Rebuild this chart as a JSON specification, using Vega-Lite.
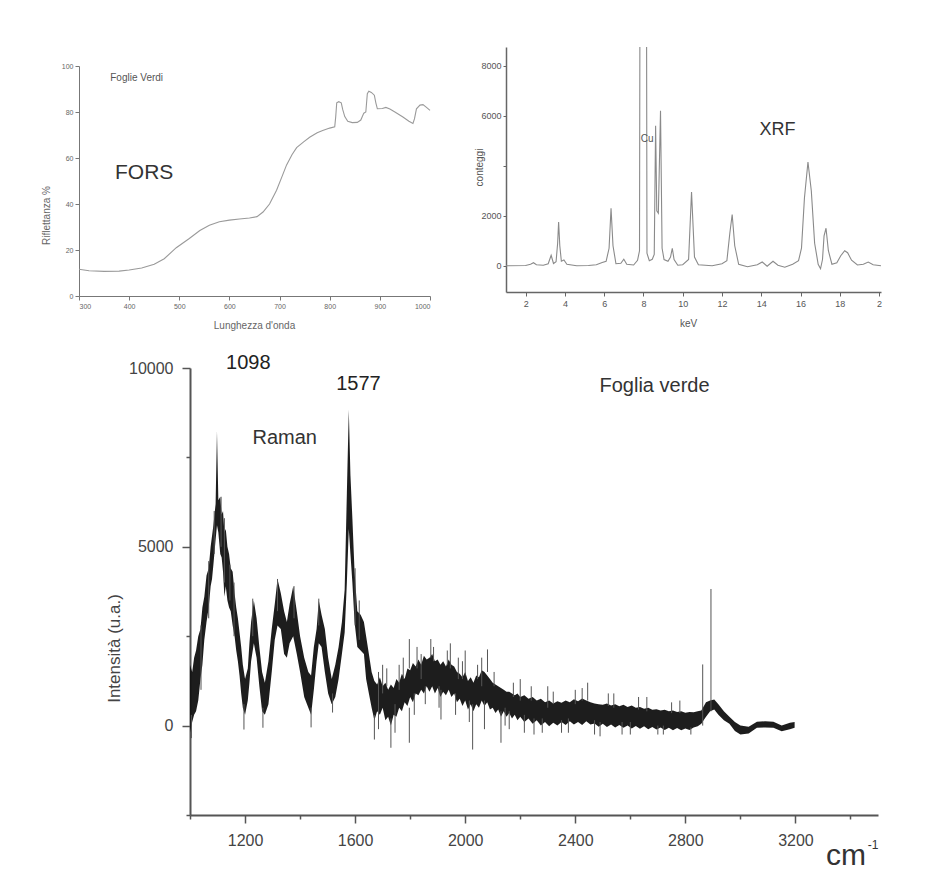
{
  "$schema": "https://vega.github.io/schema/vega-lite/v6.json",
  "padding": {"left": 41, "top": 47, "right": 5, "bottom": 5},
  "background": "white",
  "config": {
    "view": {"stroke": null},
    "font": "Liberation Sans",
    "axis": {"grid": false, "labelOverlap": false}
  },
  "datasets": {
    "fors": [
      {"nm": 300, "r": 11.6}, {"nm": 320, "r": 11.0}, {"nm": 350, "r": 10.7}, {"nm": 380, "r": 10.8},
      {"nm": 400, "r": 11.3}, {"nm": 425, "r": 12.2}, {"nm": 450, "r": 13.8}, {"nm": 470, "r": 16.2},
      {"nm": 494, "r": 21}, {"nm": 520, "r": 25}, {"nm": 541, "r": 28.5}, {"nm": 560, "r": 30.8},
      {"nm": 580, "r": 32.3}, {"nm": 600, "r": 33}, {"nm": 620, "r": 33.5}, {"nm": 640, "r": 33.9},
      {"nm": 655, "r": 34.5}, {"nm": 667, "r": 36.5}, {"nm": 680, "r": 40}, {"nm": 694, "r": 46},
      {"nm": 705, "r": 52}, {"nm": 714, "r": 57}, {"nm": 725, "r": 61.5}, {"nm": 734, "r": 64.5},
      {"nm": 748, "r": 67}, {"nm": 760, "r": 69}, {"nm": 775, "r": 71}, {"nm": 786, "r": 72},
      {"nm": 800, "r": 73}, {"nm": 810, "r": 73.6}, {"nm": 812, "r": 78}, {"nm": 814, "r": 84},
      {"nm": 818, "r": 84.5}, {"nm": 823, "r": 84}, {"nm": 826, "r": 81}, {"nm": 830, "r": 78},
      {"nm": 836, "r": 76}, {"nm": 845, "r": 75.4}, {"nm": 855, "r": 75.5}, {"nm": 862, "r": 76.5},
      {"nm": 868, "r": 79.5}, {"nm": 872, "r": 80}, {"nm": 875, "r": 88}, {"nm": 878, "r": 89},
      {"nm": 883, "r": 88.5}, {"nm": 889, "r": 87.3}, {"nm": 892, "r": 84}, {"nm": 895, "r": 81.4},
      {"nm": 905, "r": 81.5}, {"nm": 912, "r": 82}, {"nm": 920, "r": 81.3}, {"nm": 930, "r": 80},
      {"nm": 946, "r": 77.8}, {"nm": 958, "r": 76}, {"nm": 966, "r": 75}, {"nm": 969, "r": 77},
      {"nm": 973, "r": 81.4}, {"nm": 980, "r": 83}, {"nm": 986, "r": 83.2}, {"nm": 993, "r": 82},
      {"nm": 1000, "r": 80.7}
    ],
    "xrf": [
      {"kev": 1.0, "c": 0}, {"kev": 2.0, "c": 10}, {"kev": 2.25, "c": 60}, {"kev": 2.4, "c": 120},
      {"kev": 2.55, "c": 40}, {"kev": 2.9, "c": 20}, {"kev": 3.15, "c": 80}, {"kev": 3.3, "c": 420},
      {"kev": 3.42, "c": 90}, {"kev": 3.55, "c": 160}, {"kev": 3.63, "c": 900}, {"kev": 3.68, "c": 1750},
      {"kev": 3.74, "c": 800}, {"kev": 3.82, "c": 180}, {"kev": 3.95, "c": 230}, {"kev": 4.1, "c": 60},
      {"kev": 4.6, "c": 0}, {"kev": 5.2, "c": 10}, {"kev": 5.6, "c": 40}, {"kev": 5.9, "c": 130},
      {"kev": 6.1, "c": 180}, {"kev": 6.25, "c": 700}, {"kev": 6.35, "c": 2300}, {"kev": 6.45, "c": 800},
      {"kev": 6.6, "c": 80}, {"kev": 6.85, "c": 100}, {"kev": 7.0, "c": 260}, {"kev": 7.15, "c": 60},
      {"kev": 7.5, "c": 30}, {"kev": 7.7, "c": 220}, {"kev": 7.8, "c": 600}, {"kev": 7.83, "c": 14000},
      {"kev": 8.15, "c": 14000}, {"kev": 8.18, "c": 500}, {"kev": 8.3, "c": 200}, {"kev": 8.45, "c": 260},
      {"kev": 8.55, "c": 450}, {"kev": 8.62, "c": 5600}, {"kev": 8.68, "c": 2200}, {"kev": 8.76, "c": 2100},
      {"kev": 8.87, "c": 6200}, {"kev": 8.95, "c": 700}, {"kev": 9.05, "c": 250}, {"kev": 9.25, "c": 180},
      {"kev": 9.38, "c": 350}, {"kev": 9.47, "c": 700}, {"kev": 9.56, "c": 250}, {"kev": 9.75, "c": 20},
      {"kev": 10.0, "c": 40}, {"kev": 10.3, "c": 250}, {"kev": 10.45, "c": 2950}, {"kev": 10.6, "c": 350},
      {"kev": 10.8, "c": 40}, {"kev": 11.5, "c": 0}, {"kev": 12.0, "c": 80}, {"kev": 12.25, "c": 200},
      {"kev": 12.4, "c": 1300}, {"kev": 12.52, "c": 2050}, {"kev": 12.65, "c": 800}, {"kev": 12.85, "c": 60},
      {"kev": 13.3, "c": -40}, {"kev": 13.8, "c": 40}, {"kev": 14.05, "c": 150}, {"kev": 14.3, "c": -20},
      {"kev": 14.6, "c": 180}, {"kev": 14.85, "c": 20}, {"kev": 15.2, "c": -60}, {"kev": 15.6, "c": 60},
      {"kev": 15.9, "c": 200}, {"kev": 16.05, "c": 700}, {"kev": 16.2, "c": 2700}, {"kev": 16.38, "c": 4150},
      {"kev": 16.55, "c": 3000}, {"kev": 16.72, "c": 900}, {"kev": 16.9, "c": 60}, {"kev": 17.02, "c": -120},
      {"kev": 17.12, "c": 250}, {"kev": 17.2, "c": 1200}, {"kev": 17.3, "c": 1500}, {"kev": 17.42, "c": 600},
      {"kev": 17.6, "c": 60}, {"kev": 17.85, "c": 120}, {"kev": 18.05, "c": 400}, {"kev": 18.25, "c": 600},
      {"kev": 18.4, "c": 520}, {"kev": 18.6, "c": 220}, {"kev": 18.9, "c": 30}, {"kev": 19.2, "c": 60},
      {"kev": 19.45, "c": 150}, {"kev": 19.7, "c": 40}, {"kev": 20.1, "c": 0}
    ],
    "ramanEnv": [
      {"x": 1000, "lo": -200, "hi": 1700}, {"x": 1008, "lo": 100, "hi": 1500}, {"x": 1015, "lo": 300, "hi": 1900},
      {"x": 1022, "lo": 400, "hi": 2100}, {"x": 1030, "lo": 700, "hi": 2500}, {"x": 1038, "lo": 1300, "hi": 2700},
      {"x": 1045, "lo": 1700, "hi": 3300}, {"x": 1052, "lo": 2400, "hi": 3600}, {"x": 1060, "lo": 2900, "hi": 4200},
      {"x": 1068, "lo": 3300, "hi": 4400}, {"x": 1075, "lo": 3900, "hi": 5000}, {"x": 1080, "lo": 4100, "hi": 5300},
      {"x": 1085, "lo": 4500, "hi": 5600}, {"x": 1093, "lo": 5200, "hi": 6200}, {"x": 1098, "lo": 5600, "hi": 8230},
      {"x": 1103, "lo": 5400, "hi": 6300}, {"x": 1110, "lo": 4800, "hi": 6400}, {"x": 1115, "lo": 4700, "hi": 5900},
      {"x": 1120, "lo": 4300, "hi": 6000}, {"x": 1125, "lo": 3600, "hi": 5400}, {"x": 1130, "lo": 3900, "hi": 5500},
      {"x": 1136, "lo": 3500, "hi": 5000}, {"x": 1142, "lo": 3300, "hi": 4800}, {"x": 1148, "lo": 3200, "hi": 4400},
      {"x": 1155, "lo": 2800, "hi": 4300}, {"x": 1162, "lo": 2500, "hi": 3700}, {"x": 1168, "lo": 2100, "hi": 3300},
      {"x": 1174, "lo": 1800, "hi": 3000}, {"x": 1180, "lo": 1400, "hi": 2600}, {"x": 1186, "lo": 900, "hi": 2200},
      {"x": 1192, "lo": 500, "hi": 1700}, {"x": 1200, "lo": 300, "hi": 1300}, {"x": 1210, "lo": 700, "hi": 1600},
      {"x": 1216, "lo": 1200, "hi": 2300}, {"x": 1222, "lo": 1800, "hi": 2900}, {"x": 1232, "lo": 2300, "hi": 3500},
      {"x": 1242, "lo": 1900, "hi": 3000}, {"x": 1252, "lo": 1100, "hi": 2200}, {"x": 1262, "lo": 400, "hi": 1500},
      {"x": 1272, "lo": 300, "hi": 1200}, {"x": 1285, "lo": 600, "hi": 1800}, {"x": 1297, "lo": 1500, "hi": 2700},
      {"x": 1308, "lo": 2400, "hi": 3400}, {"x": 1318, "lo": 2800, "hi": 4100}, {"x": 1330, "lo": 2700, "hi": 3700},
      {"x": 1342, "lo": 2000, "hi": 3200}, {"x": 1352, "lo": 1900, "hi": 2900}, {"x": 1362, "lo": 2300, "hi": 3400},
      {"x": 1375, "lo": 2500, "hi": 3900}, {"x": 1388, "lo": 2000, "hi": 3200}, {"x": 1400, "lo": 1500, "hi": 2500},
      {"x": 1415, "lo": 800, "hi": 1900}, {"x": 1430, "lo": 500, "hi": 1500}, {"x": 1440, "lo": 300, "hi": 1400},
      {"x": 1450, "lo": 1000, "hi": 2200}, {"x": 1460, "lo": 1800, "hi": 2700}, {"x": 1468, "lo": 2300, "hi": 3500},
      {"x": 1478, "lo": 2200, "hi": 3100}, {"x": 1490, "lo": 1500, "hi": 2700}, {"x": 1502, "lo": 900, "hi": 1900},
      {"x": 1515, "lo": 600, "hi": 1300}, {"x": 1528, "lo": 800, "hi": 1700}, {"x": 1540, "lo": 1300, "hi": 2200},
      {"x": 1552, "lo": 2000, "hi": 2900}, {"x": 1562, "lo": 2600, "hi": 3800}, {"x": 1570, "lo": 4000, "hi": 6500},
      {"x": 1577, "lo": 5500, "hi": 8830}, {"x": 1583, "lo": 4800, "hi": 7000}, {"x": 1590, "lo": 4000, "hi": 5800},
      {"x": 1598, "lo": 2900, "hi": 4300}, {"x": 1608, "lo": 2200, "hi": 3200}, {"x": 1620, "lo": 2100, "hi": 3100},
      {"x": 1632, "lo": 2000, "hi": 2900}, {"x": 1640, "lo": 1300, "hi": 2500}, {"x": 1650, "lo": 900, "hi": 2000},
      {"x": 1660, "lo": 500, "hi": 1500}, {"x": 1670, "lo": 150, "hi": 1250}, {"x": 1680, "lo": 400, "hi": 1150},
      {"x": 1690, "lo": 300, "hi": 1350}, {"x": 1700, "lo": 500, "hi": 1100}, {"x": 1710, "lo": 150, "hi": 1200},
      {"x": 1720, "lo": 250, "hi": 1000}, {"x": 1730, "lo": 0, "hi": 1150}, {"x": 1740, "lo": 300, "hi": 1050},
      {"x": 1750, "lo": 250, "hi": 1300}, {"x": 1760, "lo": 500, "hi": 1200}, {"x": 1770, "lo": 400, "hi": 1450},
      {"x": 1780, "lo": 650, "hi": 1300}, {"x": 1790, "lo": 550, "hi": 1600}, {"x": 1800, "lo": 800, "hi": 1550},
      {"x": 1810, "lo": 650, "hi": 1750}, {"x": 1820, "lo": 900, "hi": 1650}, {"x": 1830, "lo": 850, "hi": 1850},
      {"x": 1840, "lo": 1000, "hi": 1700}, {"x": 1850, "lo": 900, "hi": 1950}, {"x": 1860, "lo": 1100, "hi": 1850},
      {"x": 1870, "lo": 950, "hi": 1900}, {"x": 1880, "lo": 1100, "hi": 2000}, {"x": 1890, "lo": 900, "hi": 1800},
      {"x": 1900, "lo": 1050, "hi": 1850}, {"x": 1910, "lo": 800, "hi": 1700}, {"x": 1920, "lo": 950, "hi": 1800},
      {"x": 1930, "lo": 850, "hi": 1650}, {"x": 1940, "lo": 1000, "hi": 1850}, {"x": 1950, "lo": 800, "hi": 1700},
      {"x": 1960, "lo": 900, "hi": 1650}, {"x": 1970, "lo": 650, "hi": 1500}, {"x": 1980, "lo": 750, "hi": 1450},
      {"x": 1990, "lo": 550, "hi": 1350}, {"x": 2000, "lo": 700, "hi": 1500}, {"x": 2010, "lo": 450, "hi": 1250},
      {"x": 2020, "lo": 600, "hi": 1350}, {"x": 2030, "lo": 400, "hi": 1200}, {"x": 2040, "lo": 600, "hi": 1400},
      {"x": 2050, "lo": 500, "hi": 1350}, {"x": 2060, "lo": 700, "hi": 1550}, {"x": 2070, "lo": 550, "hi": 1500},
      {"x": 2080, "lo": 650, "hi": 1400}, {"x": 2090, "lo": 450, "hi": 1300}, {"x": 2100, "lo": 500, "hi": 1200},
      {"x": 2110, "lo": 350, "hi": 1150}, {"x": 2120, "lo": 450, "hi": 1100}, {"x": 2130, "lo": 250, "hi": 1050},
      {"x": 2140, "lo": 400, "hi": 1000}, {"x": 2150, "lo": 250, "hi": 950}, {"x": 2160, "lo": 350, "hi": 950},
      {"x": 2170, "lo": 200, "hi": 900}, {"x": 2180, "lo": 300, "hi": 850}, {"x": 2190, "lo": 150, "hi": 900},
      {"x": 2200, "lo": 250, "hi": 800}, {"x": 2215, "lo": 100, "hi": 850}, {"x": 2230, "lo": 200, "hi": 750},
      {"x": 2245, "lo": 50, "hi": 800}, {"x": 2260, "lo": 150, "hi": 700}, {"x": 2275, "lo": 0, "hi": 750},
      {"x": 2290, "lo": 100, "hi": 650}, {"x": 2305, "lo": -20, "hi": 700}, {"x": 2320, "lo": 80, "hi": 620},
      {"x": 2335, "lo": 0, "hi": 680}, {"x": 2350, "lo": 100, "hi": 640}, {"x": 2365, "lo": 20, "hi": 700},
      {"x": 2380, "lo": 120, "hi": 650}, {"x": 2395, "lo": 30, "hi": 740}, {"x": 2410, "lo": 100, "hi": 680},
      {"x": 2425, "lo": 20, "hi": 760}, {"x": 2440, "lo": 120, "hi": 700}, {"x": 2455, "lo": 30, "hi": 650},
      {"x": 2470, "lo": 60, "hi": 620}, {"x": 2485, "lo": -30, "hi": 600}, {"x": 2500, "lo": 50, "hi": 580},
      {"x": 2515, "lo": -40, "hi": 620}, {"x": 2530, "lo": 30, "hi": 560}, {"x": 2545, "lo": -50, "hi": 600},
      {"x": 2560, "lo": 20, "hi": 540}, {"x": 2575, "lo": -60, "hi": 580}, {"x": 2590, "lo": 0, "hi": 520},
      {"x": 2605, "lo": -80, "hi": 560}, {"x": 2620, "lo": -10, "hi": 500}, {"x": 2635, "lo": -90, "hi": 520},
      {"x": 2650, "lo": -20, "hi": 470}, {"x": 2665, "lo": -100, "hi": 500}, {"x": 2680, "lo": -40, "hi": 440},
      {"x": 2695, "lo": -110, "hi": 460}, {"x": 2710, "lo": -50, "hi": 420}, {"x": 2725, "lo": -120, "hi": 440},
      {"x": 2740, "lo": -60, "hi": 400}, {"x": 2755, "lo": -130, "hi": 420}, {"x": 2770, "lo": -70, "hi": 380},
      {"x": 2785, "lo": -130, "hi": 400}, {"x": 2800, "lo": -80, "hi": 360}, {"x": 2815, "lo": -120, "hi": 380},
      {"x": 2830, "lo": -50, "hi": 370}, {"x": 2845, "lo": -20, "hi": 400}, {"x": 2858, "lo": 50, "hi": 420},
      {"x": 2875, "lo": 250, "hi": 650}, {"x": 2890, "lo": 400, "hi": 700}, {"x": 2905, "lo": 450, "hi": 730},
      {"x": 2920, "lo": 300, "hi": 600}, {"x": 2940, "lo": 150, "hi": 400}, {"x": 2960, "lo": 50, "hi": 250},
      {"x": 2980, "lo": -150, "hi": 100}, {"x": 3000, "lo": -250, "hi": 0}, {"x": 3030, "lo": -220, "hi": -30},
      {"x": 3060, "lo": -60, "hi": 110}, {"x": 3090, "lo": -50, "hi": 120}, {"x": 3120, "lo": -60, "hi": 110},
      {"x": 3150, "lo": -160, "hi": 0}, {"x": 3180, "lo": -100, "hi": 80}, {"x": 3197, "lo": -60, "hi": 100}
    ],
    "ramanSpikes": [
      {"x": 1005, "y0": -350, "y1": 300}, {"x": 1040, "y0": 1000, "y1": 2800}, {"x": 1068, "y0": 3000, "y1": 4600},
      {"x": 1088, "y0": 4800, "y1": 6000}, {"x": 1113, "y0": 5000, "y1": 6400}, {"x": 1125, "y0": 4000, "y1": 5800},
      {"x": 1145, "y0": 3500, "y1": 4500}, {"x": 1160, "y0": 2500, "y1": 4000}, {"x": 1196, "y0": -110, "y1": 600},
      {"x": 1228, "y0": 2500, "y1": 3550}, {"x": 1265, "y0": -60, "y1": 500}, {"x": 1318, "y0": 3200, "y1": 4100},
      {"x": 1378, "y0": 3000, "y1": 3900}, {"x": 1440, "y0": -50, "y1": 500}, {"x": 1468, "y0": 2800, "y1": 3550},
      {"x": 1518, "y0": 365, "y1": 900}, {"x": 1600, "y0": 2800, "y1": 4400}, {"x": 1615, "y0": 2400, "y1": 3500},
      {"x": 1670, "y0": -390, "y1": 300}, {"x": 1685, "y0": -100, "y1": 1500}, {"x": 1700, "y0": 900, "y1": 1700},
      {"x": 1715, "y0": 1100, "y1": 1600}, {"x": 1730, "y0": -620, "y1": 200}, {"x": 1745, "y0": -200, "y1": 600},
      {"x": 1760, "y0": 1000, "y1": 1700}, {"x": 1775, "y0": 1300, "y1": 1900}, {"x": 1797, "y0": -480, "y1": 500},
      {"x": 1797, "y0": 1600, "y1": 2420}, {"x": 1815, "y0": 300, "y1": 900}, {"x": 1825, "y0": 1600, "y1": 2200},
      {"x": 1840, "y0": 1300, "y1": 2000}, {"x": 1855, "y0": 600, "y1": 1100}, {"x": 1875, "y0": 1900, "y1": 2420},
      {"x": 1885, "y0": 1800, "y1": 2200}, {"x": 1905, "y0": 500, "y1": 1100}, {"x": 1912, "y0": 170, "y1": 1000},
      {"x": 1935, "y0": 1700, "y1": 2100}, {"x": 1946, "y0": 1600, "y1": 2300}, {"x": 1965, "y0": 300, "y1": 900},
      {"x": 1975, "y0": 1300, "y1": 1900}, {"x": 1990, "y0": 1300, "y1": 1800}, {"x": 2000, "y0": 1400, "y1": 2100},
      {"x": 2015, "y0": 100, "y1": 700}, {"x": 2027, "y0": -670, "y1": 600}, {"x": 2045, "y0": 1300, "y1": 1700},
      {"x": 2060, "y0": 1100, "y1": 1900}, {"x": 2070, "y0": -100, "y1": 700}, {"x": 2081, "y0": 1500, "y1": 2130},
      {"x": 2105, "y0": 1100, "y1": 1500}, {"x": 2130, "y0": -480, "y1": 400}, {"x": 2145, "y0": 0, "y1": 500},
      {"x": 2160, "y0": -100, "y1": 400}, {"x": 2175, "y0": 800, "y1": 1200}, {"x": 2200, "y0": 700, "y1": 1300},
      {"x": 2215, "y0": -200, "y1": 300}, {"x": 2240, "y0": 700, "y1": 1100}, {"x": 2250, "y0": -250, "y1": 200},
      {"x": 2280, "y0": -200, "y1": 200}, {"x": 2300, "y0": 500, "y1": 1100}, {"x": 2320, "y0": 600, "y1": 950},
      {"x": 2350, "y0": -200, "y1": 150}, {"x": 2375, "y0": -200, "y1": 200}, {"x": 2400, "y0": 600, "y1": 1000},
      {"x": 2425, "y0": 700, "y1": 1050}, {"x": 2445, "y0": 700, "y1": 1200}, {"x": 2470, "y0": -250, "y1": 150},
      {"x": 2490, "y0": -300, "y1": 100}, {"x": 2520, "y0": 550, "y1": 900}, {"x": 2540, "y0": 500, "y1": 900},
      {"x": 2570, "y0": -250, "y1": 100}, {"x": 2600, "y0": -250, "y1": 100}, {"x": 2630, "y0": 450, "y1": 800},
      {"x": 2660, "y0": 400, "y1": 800}, {"x": 2700, "y0": -250, "y1": 0}, {"x": 2720, "y0": -250, "y1": 0},
      {"x": 2750, "y0": 350, "y1": 650}, {"x": 2780, "y0": 350, "y1": 700}, {"x": 2820, "y0": -250, "y1": -50},
      {"x": 2863, "y0": 0, "y1": 1710}, {"x": 2893, "y0": 400, "y1": 3820}
    ]
  },
  "vconcat": [
    {
      "hconcat": [
        {
          "vconcat": [
            {
              "width": 10,
              "height": 1,
              "data": {"values": []},
              "mark": "point"
            },
            {
              "width": 351,
              "height": 230,
              "layer": [
                {
                  "data": {"name": "fors"},
                  "mark": {"type": "line", "color": "#9a9a9a", "strokeWidth": 1.1},
                  "encoding": {
                    "x": {
                      "field": "nm", "type": "quantitative",
                      "scale": {"domain": [300, 1000], "nice": false, "zero": false},
                      "axis": {
                        "values": [300, 350, 400, 450, 500, 550, 600, 650, 700, 750, 800, 850, 900, 950, 1000],
                        "labelExpr": "datum.value % 100 == 0 ? datum.label : ''",
                        "format": "d",
                        "labelOverlap": false,
                        "tickSize": {"condition": {"test": "datum.value % 100 == 0", "value": 4}, "value": 2},
                        "domainColor": "#777", "tickColor": "#777", "labelColor": "#666",
                        "labelFontSize": 7, "labelPadding": 2,
                        "title": "Lunghezza d'onda", "titleFontSize": 10, "titleFontWeight": "normal",
                        "titleColor": "#666", "titleX": 175, "titleY": 24
                      }
                    },
                    "y": {
                      "field": "r", "type": "quantitative",
                      "scale": {"domain": [0, 100], "nice": false},
                      "axis": {
                        "values": [0, 10, 20, 30, 40, 50, 60, 70, 80, 90, 100],
                        "labelExpr": "datum.value % 20 == 0 ? datum.label : ''",
                        "labelOverlap": false,
                        "tickSize": {"condition": {"test": "datum.value % 20 == 0", "value": 4}, "value": 2},
                        "domainColor": "#777", "tickColor": "#777", "labelColor": "#666",
                        "labelFontSize": 7, "labelPadding": 2,
                        "title": "Riflettanza %", "titleFontSize": 10, "titleFontWeight": "normal",
                        "titleColor": "#666", "titleX": -28, "titleY": 149
                      }
                    }
                  }
                },
                {
                  "data": {"values": [{"nm": 415, "r": 95, "t": "Foglie Verdi"}]},
                  "mark": {"type": "text", "fontSize": 10, "color": "#555"},
                  "encoding": {
                    "x": {"field": "nm", "type": "quantitative"},
                    "y": {"field": "r", "type": "quantitative"},
                    "text": {"field": "t"}
                  }
                },
                {
                  "data": {"values": [{"nm": 430, "r": 53.5, "t": "FORS"}]},
                  "mark": {"type": "text", "fontSize": 21, "color": "#333"},
                  "encoding": {
                    "x": {"field": "nm", "type": "quantitative"},
                    "y": {"field": "r", "type": "quantitative"},
                    "text": {"field": "t"}
                  }
                }
              ]
            }
          ],
          "spacing": 14
        },
        {
          "width": 375,
          "height": 245,
          "layer": [
            {
              "data": {"name": "xrf"},
              "mark": {"type": "line", "color": "#8a8a8a", "strokeWidth": 1.1, "clip": true},
              "encoding": {
                "x": {
                  "field": "kev", "type": "quantitative",
                  "scale": {"domain": [1, 20.1], "nice": false, "zero": false},
                  "axis": {
                    "values": [2, 3, 4, 5, 6, 7, 8, 9, 10, 11, 12, 13, 14, 15, 16, 17, 18, 19, 20],
                    "format": "d",
                    "labelExpr": "datum.value % 2 == 1 ? '' : (datum.value == 20 ? '2' : datum.label)",
                    "labelOverlap": false,
                    "tickSize": {"condition": {"test": "datum.value % 2 == 0", "value": 4}, "value": 2},
                    "domainColor": "#666", "domainWidth": 1.5, "tickColor": "#666", "labelColor": "#555",
                    "labelFontSize": 9, "labelPadding": 3,
                    "title": "keV", "titleFontSize": 10, "titleFontWeight": "normal",
                    "titleColor": "#555", "titleX": 182, "titleY": 26
                  }
                },
                "y": {
                  "field": "c", "type": "quantitative",
                  "scale": {"domain": [-1050, 8750], "nice": false, "zero": false},
                  "axis": {
                    "values": [0, 1000, 2000, 3000, 4000, 5000, 6000, 7000, 8000],
                    "labelExpr": "(datum.value == 0 || datum.value == 2000 || datum.value == 6000 || datum.value == 8000) ? datum.label : ''",
                    "format": "d",
                    "labelOverlap": false,
                    "tickSize": 3,
                    "domainColor": "#666", "domainWidth": 1.5, "tickColor": "#666", "labelColor": "#555",
                    "labelFontSize": 9, "labelPadding": 2,
                    "title": "conteggi", "titleFontSize": 10, "titleFontWeight": "normal",
                    "titleColor": "#555", "titleX": -22, "titleY": 120
                  }
                }
              }
            },
            {
              "data": {"values": [{"kev": 8.19, "c": 5090, "t": "Cu"}]},
              "mark": {"type": "text", "fontSize": 10, "color": "#555"},
              "encoding": {
                "x": {"field": "kev", "type": "quantitative"},
                "y": {"field": "c", "type": "quantitative"},
                "text": {"field": "t"}
              }
            },
            {
              "data": {"values": [{"kev": 14.83, "c": 5430, "t": "XRF"}]},
              "mark": {"type": "text", "fontSize": 18, "color": "#333"},
              "encoding": {
                "x": {"field": "kev", "type": "quantitative"},
                "y": {"field": "c", "type": "quantitative"},
                "text": {"field": "t"}
              }
            }
          ]
        }
      ],
      "spacing": 41
    },
    {
      "hconcat": [
        {
          "width": 26,
          "height": 10,
          "data": {"values": []},
          "mark": "point"
        },
        {
          "width": 688,
          "height": 447,
          "layer": [
            {
              "data": {"name": "ramanEnv"},
              "mark": {"type": "area", "color": "#111", "opacity": 0.95},
              "encoding": {
                "x": {
                  "field": "x", "type": "quantitative",
                  "scale": {"domain": [1000, 3500], "nice": false, "zero": false},
                  "axis": {
                    "values": [1000, 1200, 1400, 1600, 1800, 2000, 2200, 2400, 2600, 2800, 3000, 3200, 3400],
                    "labelExpr": "(datum.value - 1200) % 400 == 0 ? datum.label : ''",
                    "format": "d",
                    "labelOverlap": false,
                    "tickSize": {"condition": {"test": "(datum.value - 1200) % 400 == 0", "value": 8}, "value": 4},
                    "domainColor": "#555", "domainWidth": 2, "tickColor": "#555", "tickWidth": 1.5,
                    "labelColor": "#444", "labelFontSize": 16, "labelPadding": 9,
                    "title": null
                  }
                },
                "y": {
                  "field": "lo", "type": "quantitative",
                  "scale": {"domain": [-2500, 10000], "nice": false, "zero": false},
                  "axis": {
                    "values": [-2500, 0, 2500, 5000, 7500, 10000],
                    "labelExpr": "(datum.value % 5000 == 0 && datum.value >= 0) ? datum.label : ''",
                    "format": "d",
                    "labelOverlap": false,
                    "tickSize": {"condition": {"test": "datum.value % 5000 == 0", "value": 8}, "value": 4},
                    "domainColor": "#555", "domainWidth": 2, "tickColor": "#555", "tickWidth": 1.5,
                    "labelColor": "#444", "labelFontSize": 16, "labelPadding": 9,
                    "title": "Intensità (u.a.)", "titleFontSize": 17, "titleFontWeight": "normal",
                    "titleColor": "#444", "titleX": -67, "titleY": 280
                  }
                },
                "y2": {"field": "hi"}
              }
            },
            {
              "data": {"name": "ramanSpikes"},
              "mark": {"type": "rule", "color": "#555", "strokeWidth": 1},
              "encoding": {
                "x": {"field": "x", "type": "quantitative"},
                "y": {"field": "y0", "type": "quantitative"},
                "y2": {"field": "y1"}
              }
            },
            {
              "data": {"values": [
                {"x": 1212, "y": 10126, "t": "1098"},
                {"x": 1612, "y": 9551, "t": "1577"}
              ]},
              "mark": {"type": "text", "fontSize": 20, "color": "#222"},
              "encoding": {
                "x": {"field": "x", "type": "quantitative"},
                "y": {"field": "y", "type": "quantitative"},
                "text": {"field": "t"}
              }
            },
            {
              "data": {"values": [
                {"x": 1344, "y": 8034, "t": "Raman"},
                {"x": 2688, "y": 9494, "t": "Foglia verde"}
              ]},
              "mark": {"type": "text", "fontSize": 20, "color": "#333"},
              "encoding": {
                "x": {"field": "x", "type": "quantitative"},
                "y": {"field": "y", "type": "quantitative"},
                "text": {"field": "t"}
              }
            },
            {
              "data": {"values": [{"x": 3384, "y": -3652, "t": "cm"}]},
              "mark": {"type": "text", "fontSize": 30, "color": "#333"},
              "encoding": {
                "x": {"field": "x", "type": "quantitative"},
                "y": {"field": "y", "type": "quantitative"},
                "text": {"field": "t"}
              }
            },
            {
              "data": {"values": [{"x": 3482, "y": -3343, "t": "-1"}]},
              "mark": {"type": "text", "fontSize": 12, "color": "#333"},
              "encoding": {
                "x": {"field": "x", "type": "quantitative"},
                "y": {"field": "y", "type": "quantitative"},
                "text": {"field": "t"}
              }
            }
          ]
        }
      ],
      "spacing": 0
    }
  ],
  "spacing": 23
}
